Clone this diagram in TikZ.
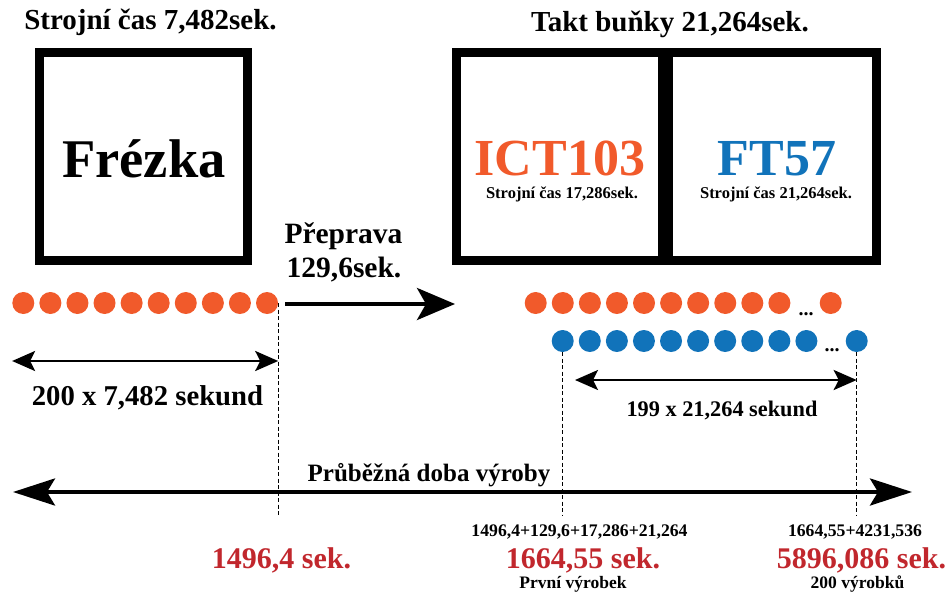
\documentclass[tikz,border=0pt]{standalone}
\usepackage{fontspec}
\setmainfont{Liberation Serif}
\usetikzlibrary{arrows.meta}
\definecolor{oranzova}{RGB}{241,90,43}
\definecolor{modra}{RGB}{17,115,186}
\definecolor{cervena}{RGB}{193,39,45}
\def\pismo#1{\fontsize{#1}{#1}\selectfont\bfseries}
\def\krok{27.08}
\def\sipka#1#2#3{
	\draw[#3] #1 -- #2;
}

\begin{document}
\begin{tikzpicture}[x=1pt,y=-1pt,
	ram/.style={draw,line width=9pt,inner sep=0pt,minimum height=208pt},
	tecka/.style={circle,inner sep=0pt,minimum size=22pt},
	popis/.style={anchor=base,inner sep=0pt},
	carka/.style={line width=1.2pt,dash pattern=on 4pt off 2.5pt},
	mala/.style={line width=2.6pt,>={Stealth[length=23pt,width=20pt,inset=5pt]},<->},
	velka/.style={line width=4pt,>={Stealth[length=42pt,width=27pt,inset=8pt]},<->},
	preprava/.style={line width=4pt,>={Stealth[length=38pt,width=32pt,inset=9pt]},->}]
\useasboundingbox (0,0) rectangle (950,594);
\node[ram,minimum width=208pt] (frezka) at (143.5,156.5) {};
\node[ram,minimum width=206pt] (ict) at (559.5,156.5) {};
\node[ram,minimum width=208pt] (ft) at (772.5,156.5) {};
\node[popis,font=\pismo{29}] (t1) at (150.5,30) {Strojní čas 7,482sek.};
\node[popis,font=\pismo{29}] (t2) at (670,31.5) {Takt buňky 21,264sek.};
\node[popis,font=\pismo{54.5}] (n1) at (144,177) {Frézka};
\node[popis,font=\pismo{52},text=oranzova] (n2) at (560,175) {ICT103};
\node[popis,font=\pismo{52},text=modra] (n3) at (777,175) {FT57};
\node[popis,font=\pismo{16.5}] (s2) at (562,198) {Strojní čas 17,286sek.};
\node[popis,font=\pismo{16.5}] (s3) at (776,198) {Strojní čas 21,264sek.};
\node[popis,font=\pismo{29.5}] (p1) at (343.5,243) {Přeprava};
\node[popis,font=\pismo{29.5}] (p2) at (344,277) {129,6sek.};
\foreach \i in {0,...,9}
	\node[tecka,fill=oranzova] (a\i) at ({23.3+\krok*\i},303) {};
\foreach \i in {0,...,9}
	\node[tecka,fill=oranzova] (b\i) at ({535.7+\krok*\i},303) {};
\node[popis,font=\pismo{20}] (bt) at (806,315) {...};
\node[tecka,fill=oranzova] (bn) at (830.7,303) {};
\foreach \i in {0,...,9}
	\node[tecka,fill=modra] (c\i) at ({562.7+\krok*\i},341) {};
\node[popis,font=\pismo{20}] (ct) at (832,351) {...};
\node[tecka,fill=modra] (cn) at (856.7,341) {};
\coordinate (k1) at (a9.east |- 0,515);
\coordinate (k2) at (c0.south |- 0,515);
\coordinate (k3) at (cn.south |- 0,515);
\draw[carka] (a9.east) -- (k1);
\draw[carka] (c0.south) -- (k2);
\draw[carka] (cn.south) -- (k3);
\coordinate (m1) at (a0.west |- 0,361);
\coordinate (m2) at (a9.east |- 0,361);
\coordinate (m3) at (575,380);
\coordinate (m4) at (cn.center |- 0,380);
\coordinate (v1) at (13,492);
\coordinate (v2) at (912,492);
\coordinate (q1) at (285,304);
\coordinate (q2) at (455,304);
\sipka{(m1)}{(m2)}{mala}
\sipka{(m3)}{(m4)}{mala}
\sipka{(v1)}{(v2)}{velka}
\sipka{(q1)}{(q2)}{preprava}
\node[popis,font=\pismo{28.7}] (l1) at (147.5,405) {200 x 7,482 sekund};
\node[popis,font=\pismo{22.3}] (l2) at (722,416.7) {199 x 21,264 sekund};
\node[popis,font=\pismo{25}] (l3) at (429,481.7) {Průběžná doba výroby};
\node[popis,font=\pismo{17.7}] (r1) at (579.5,536) {1496,4+129,6+17,286+21,264};
\node[popis,font=\pismo{17.7}] (r2) at (855,536) {1664,55+4231,536};
\node[popis,font=\pismo{30},text=cervena] (x1) at (281.5,568) {1496,4 sek.};
\node[popis,font=\pismo{30},text=cervena] (x2) at (583,568) {1664,55 sek.};
\node[popis,font=\pismo{30},text=cervena] (x3) at (861.5,568) {5896,086 sek.};
\node[popis,font=\pismo{17.5}] (y2) at (573,588.7) {První výrobek};
\node[popis,font=\pismo{17.5}] (y3) at (857.5,588.7) {200 výrobků};
\end{tikzpicture}
\end{document}
